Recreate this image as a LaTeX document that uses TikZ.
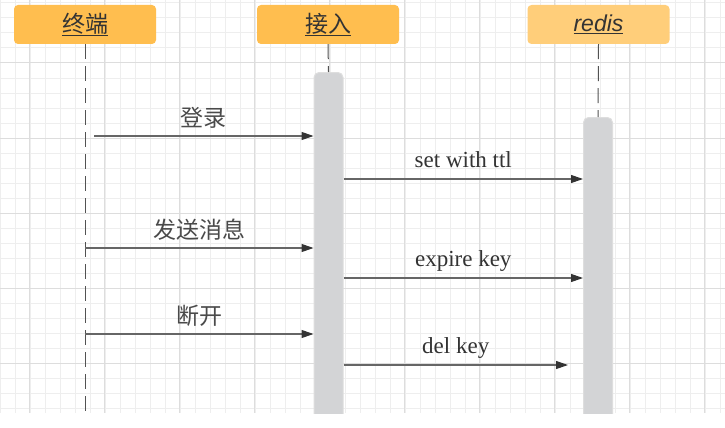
\documentclass[tikz,border=0pt]{standalone}
\usepackage{fontspec}
\setmainfont{Liberation Serif}
\newfontfamily\cjk{Noto Sans CJK SC}
\newfontfamily\hsans{Liberation Sans}
\usetikzlibrary{arrows.meta}
\definecolor{gridminor}{HTML}{EEEEEE}
\definecolor{gridmajor}{HTML}{DDDDDD}
\definecolor{headc}{HTML}{FFBE4F}
\definecolor{redisc}{HTML}{FFCE7A}
\definecolor{barc}{HTML}{D3D4D6}
\definecolor{barline}{HTML}{DEDEDE}
\definecolor{txt}{HTML}{333333}
\definecolor{cjktxt}{HTML}{4A4A4A}
\definecolor{linec}{HTML}{666666}
\tikzset{
  head/.style={rounded corners=4pt, fill=headc, minimum width=142pt, minimum height=39pt, inner sep=0pt, text=txt, font=\fontsize{23}{26}\selectfont},
  actbar/.style={rounded corners=5pt, fill=barc, draw=barline, line width=1pt, minimum width=29pt, minimum height=360pt, inner sep=0pt, anchor=north},
  life/.style={draw=linec!80!black, line width=1pt, dash pattern=on 15pt off 7pt},
  msg/.style={draw=linec, line width=1.1pt, -{Triangle[length=12pt,width=8pt,fill=txt,color=txt]}},
  lab/.style={midway, anchor=base, text=txt, inner sep=0pt, font=\fontsize{23}{26}\selectfont},
  cjklab/.style={lab, text=cjktxt},
}
\begin{document}
\begin{tikzpicture}[x=1pt,y=-1pt]
\useasboundingbox (0,0) rectangle (725,428);
\fill[white] (0,0) rectangle (725,428);
% grid
\foreach \x in {0,15,...,720} \draw[gridminor, line width=1pt] (\x+0.5,0) -- (\x+0.5,413);
\foreach \y in {3,18,...,408} \draw[gridminor, line width=1pt] (0,\y) -- (725,\y);
\foreach \x in {30,105,...,705} \draw[gridmajor, line width=1pt] (\x-0.5,0) -- (\x-0.5,413);
\foreach \y in {63,138,...,363} \draw[gridmajor, line width=1pt] (0,\y) -- (725,\y);
% headers
\node[head] (t) at (85,24.5) {\cjk\underline{终端}};
\node[head] (a) at (328,24.5) {\cjk\underline{接入}};
\node[head, fill=redisc] (r) at (598.5,24.5) {\hsans\itshape\underline{redis}};
\begin{scope}
\clip (0,0) rectangle (725,413);
% lifelines
\coordinate (bot) at (0,413);
\node[actbar] (ab) at (328.5,72) {};
\node[actbar] (rb) at (598,117) {};
\draw[life] (t.south) -- (t.south |- bot);
\draw[life] (a.south) -- (ab.north);
\draw[life] (r.south) -- (rb.north);
% messages
\coordinate (m1) at (94,136);
\coordinate (y2) at (0,179);
\coordinate (y3) at (0,248);
\coordinate (y4) at (0,278);
\coordinate (y5) at (0,334);
\coordinate (y6) at (0,365);
\draw[msg] (m1) -- (m1 -| ab.west) node[cjklab, yshift=10pt] {\cjk 登录};
\draw[msg] (ab.east |- y2) -- (rb.west |- y2) node[lab, yshift=12pt] {set with ttl};
\draw[msg] (t.south |- y3) -- (ab.west |- y3) node[cjklab, yshift=10pt] {\cjk 发送消息};
\draw[msg] (ab.east |- y4) -- (rb.west |- y4) node[lab, yshift=12pt] {expire key};
\draw[msg] (t.south |- y5) -- (ab.west |- y5) node[cjklab, yshift=10pt] {\cjk 断开};
\draw[msg] (ab.east |- y6) -- ([xshift=-15pt]rb.west |- y6) node[lab, yshift=12pt] {del key};
\end{scope}
\end{tikzpicture}
\end{document}
